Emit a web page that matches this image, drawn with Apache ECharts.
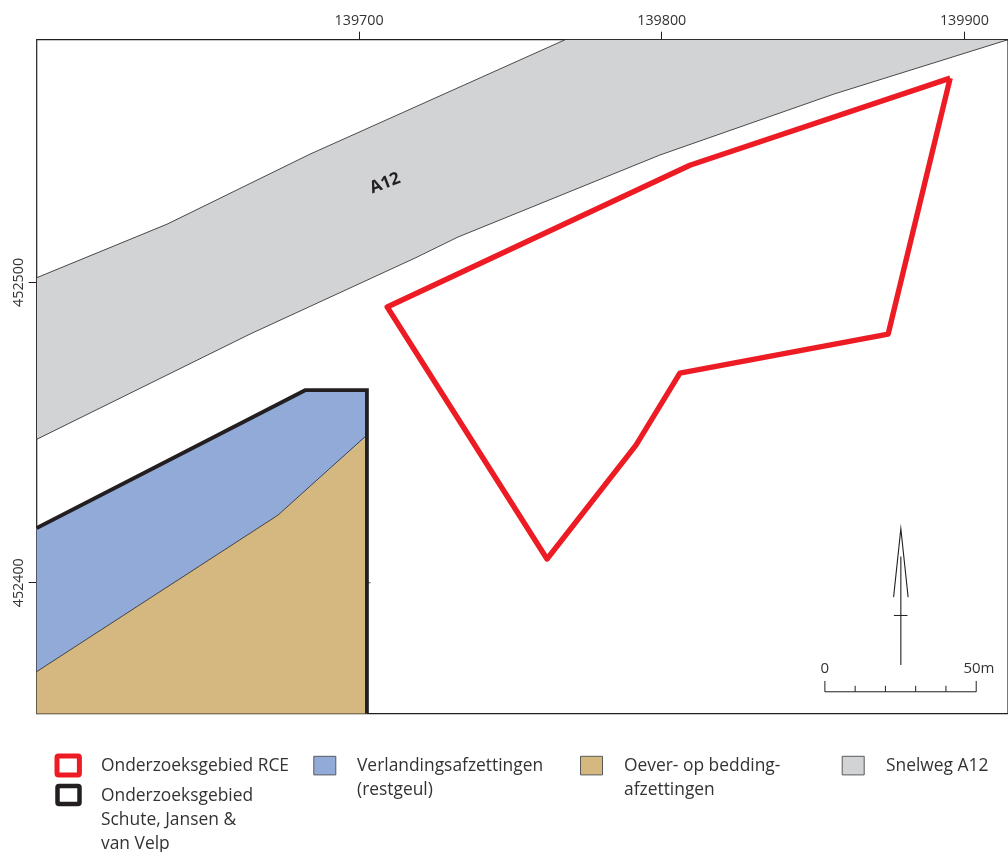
<!DOCTYPE html>
<html><head><meta charset="utf-8">
<style>html,body{margin:0;padding:0;background:#fff}#c{width:1008px;height:852px}</style>
<script src="https://cdn.jsdelivr.net/npm/echarts@6/dist/echarts.min.js"></script></head>
<body><div id="c"></div>
<script>
// Map extents and graticule (RD coordinates, metres)
const xRange = [139593.5, 139914.4];
const yRange = [452356.4, 452580.8];
const xTicks = [139700, 139800, 139900];
const yTicks = [452400, 452500];

// Areas
const roadArea = [[139593.6,452501.6],[139636.6,452519.4],[139683.8,452542.7],[139768.1,452580.8],[139914.4,452580.8],[139856.9,452562.7],[139799.4,452542.4],[139732.7,452515.1],[139718.5,452508.1],[139664,452482.8],[139593.6,452447.8]];
const roadNorthEdge = [[139593.6,452501.6],[139636.6,452519.4],[139683.8,452542.7],[139768.1,452580.8]];
const roadSouthEdge = [[139914.4,452580.8],[139856.9,452562.7],[139799.4,452542.4],[139732.7,452515.1],[139718.5,452508.1],[139664,452482.8],[139593.6,452447.8]];
const channelArea = [[139593.5,452418.2],[139682.2,452464.1],[139702.6,452464.1],[139702.6,452448.8],[139673.2,452422.5],[139593.5,452370.4]];
const bankArea = [[139593.5,452370.4],[139673.2,452422.5],[139702.6,452448.8],[139702.6,452356.4],[139593.5,452356.4]];
const channelBankEdge = [[139593.5,452370.4],[139673.2,452422.5],[139702.2,452448.8]];
const areaRCE = [[139895.3,452568],[139809.3,452539],[139709.3,452491.8],[139762.1,452407.9],[139791.5,452445.8],[139806,452469.8],[139874.8,452482.8],[139895.3,452568]];
const areaSchute = [[139593.5,452418.2],[139682.2,452464.1],[139702.6,452464.1],[139702.6,452356.4]];
const strayTick = [[139702.6,452400],[139703.8,452400]];

// Scale bar (50 m, ticks each 10 m)
const scaleBase = [[139853.9,452363.7],[139903.9,452363.7]];
const scaleEnds = [139853.9, 139903.9];
const scaleMinor = [139863.9, 139873.9, 139883.9, 139893.9];
const scaleLabels = [['0',139853.9],['50m',139904.8]];

// North arrow
const arrowShaft = [[139879,452408.7],[139879,452372.6]];
const arrowHead = [[139876.6,452395.2],[139879,452418],[139881.4,452395.2]];
const arrowBar = [[139876.7,452389.1],[139881.2,452389.1]];

// Legend
const legendLabels = [
  {x:101, lines:['Onderzoeksgebied RCE'], y:[766]},
  {x:101, lines:['Onderzoeksgebied','Schute, Jansen &','van Velp'], y:[796,820,844]},
  {x:357, lines:['Verlandingsafzettingen','(restgeul)'], y:[766,790]},
  {x:624, lines:['Oever- op bedding-','afzettingen'], y:[766,790]},
  {x:886, lines:['Snelweg A12'], y:[766]}
];
const legendSwatches = [
  {b:[57,756,22.4,19], fill:'#fff', stroke:'#ed1c24', w:5, r:1.5},
  {b:[57.5,786,22,18], fill:'#fff', stroke:'#231f20', w:4.5, r:1.5},
  {b:[313.8,756.3,22,18.6], fill:'#92aad8', stroke:'#58595b', w:1, r:0},
  {b:[580.5,756.3,22,18.6], fill:'#d4b87f', stroke:'#58595b', w:1, r:0},
  {b:[842.2,756.3,22,18.6], fill:'#d1d3d4', stroke:'#58595b', w:1, r:0}
];

const FONT = '"Open Sans", sans-serif';
const INK = '#231f20';

function shape(name, pts, type, style, z) {
  return {type:'custom', name, coordinateSystem:'cartesian2d', silent:true, z:z||2, clip:true,
    data:pts, encode:{x:0,y:1}, animation:false,
    renderItem:(p,api)=> p.dataIndex===0 ? {type, shape:{points:pts.map(q=>api.coord(q))}, style} : undefined};
}
const fill = (name,pts,color)=>shape(name,pts,'polygon',{fill:color,stroke:null});
const line = (name,pts,color,w,z,join)=>shape(name,pts,'polyline',{fill:null,stroke:color,lineWidth:w,lineJoin:join||'miter',lineCap:'butt'},z||3);

const scaleTicks = [
  ...scaleEnds.map(x=>[[x,452363.7],[x,452367.3]]),
  ...scaleMinor.map(x=>[[x,452363.7],[x,452365.7]])
];

const texts = {type:'custom', name:'annotations', coordinateSystem:'cartesian2d', silent:true, z:5, animation:false,
  data:[[139708.6,452533,'A12'],[scaleLabels[0][1],452371.3,scaleLabels[0][0]],[scaleLabels[1][1],452371.3,scaleLabels[1][0]]],
  renderItem:(p,api)=>{
    const c=api.coord([api.value(0),api.value(1)]);
    const t=['A12','0','50m'][p.dataIndex];
    if(t==='A12') return {type:'text',x:c[0],y:c[1],rotation:21*Math.PI/180,style:{text:t,x:0,y:0,align:'center',verticalAlign:'middle',fill:INK,font:'bold 17px '+FONT}};
    return {type:'text',x:c[0],y:c[1],style:{text:t,align:'center',verticalAlign:'middle',fill:'#333',font:'15px '+FONT}};
  }};

const graphic = [];
legendSwatches.forEach(s=>graphic.push({type:'rect',shape:{x:s.b[0],y:s.b[1],width:s.b[2],height:s.b[3],r:s.r},style:{fill:s.fill,stroke:s.stroke,lineWidth:s.w}}));
legendLabels.forEach(l=>l.lines.forEach((t,i)=>graphic.push({type:'text',x:l.x,y:l.y[i],style:{text:t,fill:'#333',font:'17.4px '+FONT,verticalAlign:'middle',align:'left'}})));

const axisCommon = {
  axisLine:{show:false}, splitLine:{show:false}, minorTick:{show:false},
  axisTick:{show:true,length:8,inside:false,lineStyle:{color:INK,width:1}}
};
const option = {
  animation:false, backgroundColor:'#fff',
  graphic,
  grid:{left:36.7,top:39.7,right:0,bottom:852-713.7,show:true,borderColor:INK,borderWidth:1.2,backgroundColor:'#fff',z:1},
  xAxis:{type:'value',position:'top',min:xRange[0],max:xRange[1],...axisCommon,
    axisTick:{...axisCommon.axisTick,customValues:xTicks},
    axisLabel:{customValues:xTicks,margin:12,color:'#333',fontFamily:FONT,fontSize:14.3,formatter:v=>String(v)}},
  yAxis:{type:'value',position:'left',min:yRange[0],max:yRange[1],...axisCommon,
    axisTick:{...axisCommon.axisTick,customValues:yTicks},
    axisLabel:{customValues:yTicks,margin:11,rotate:90,color:'#333',fontFamily:FONT,fontSize:14.3,formatter:v=>String(v)}},
  series:[
    fill('Snelweg A12',roadArea,'#d1d3d4'),
    line('road north',roadNorthEdge,INK,0.8),
    line('road south',roadSouthEdge,INK,0.8),
    fill('Verlandingsafzettingen (restgeul)',channelArea,'#92aad8'),
    fill('Oever- op beddingafzettingen',bankArea,'#d4b87f'),
    line('channel edge',channelBankEdge,INK,0.8),
    line('Onderzoeksgebied Schute, Jansen & van Velp',areaSchute,INK,3.8,4),
    line('tick',strayTick,INK,0.8),
    line('Onderzoeksgebied RCE',areaRCE,'#ed1c24',5.4,4,'round'),
    line('scale',scaleBase,INK,1),
    ...scaleTicks.map((t,i)=>line('scale tick '+i,t,INK,1)),
    line('north shaft',arrowShaft,INK,1.1),
    line('north head',arrowHead,INK,1.1),
    line('north bar',arrowBar,INK,1),
    texts
  ]
};
echarts.init(document.getElementById('c')).setOption(option);
</script></body></html>
